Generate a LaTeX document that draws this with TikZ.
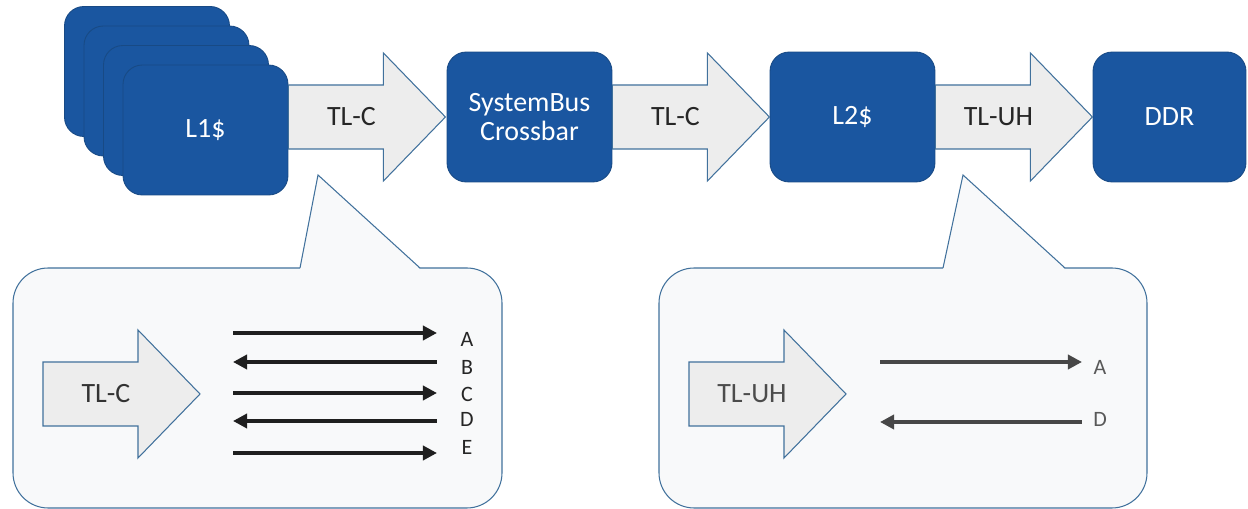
\documentclass[tikz,border=0pt]{standalone}
\usepackage{fontspec}
\setmainfont{Carlito}
\usetikzlibrary{calc,arrows.meta}

\definecolor{bluBox}{HTML}{1A56A0}
\definecolor{bordoBox}{HTML}{184A85}
\definecolor{bordoFreccia}{HTML}{41719C}
\definecolor{grigioFreccia}{HTML}{EDEDED}
\definecolor{fondoFumetto}{HTML}{F8F9FA}

\begin{document}
\begin{tikzpicture}[x=0.02cm, y=-0.02cm, >={Triangle[length=8pt,width=8pt]}]
% Stili dei blocchi, delle frecce larghe e dei fumetti
\tikzset{
  blocco/.style={draw=bordoBox, fill=bluBox, line width=0.5pt, rounded corners=11pt,
    minimum width=3.3cm, minimum height=2.6cm, text=white, align=center,
    font=\fontsize{15.9}{17}\selectfont},
  freccia/.style={draw=bordoFreccia, fill=grigioFreccia, line width=0.6pt},
  testofreccia/.style={font=\fontsize{15.9}{17}\selectfont, text=black!85},
  fumetto/.style={draw=bordoFreccia, fill=fondoFumetto, line width=0.6pt, rounded corners=20pt},
  segnale/.style={line width=2.2pt, draw=black!88},
  lettera/.style={font=\fontsize{12.5}{14}\selectfont, text=black!85},
}

% Freccia larga: #1 nome del testo, #2 punto di partenza, #3 etichetta, #4 stile extra
\def\frecciona#1#2#3#4{%
  \draw[freccia] (#2) ++(0,-32) -- ++(95,0) -- ++(0,-32) -- ++(62,64)
    -- ++(-62,64) -- ++(0,-32) -- ++(-95,0) -- cycle;
  \node[testofreccia, #4] (#1) at ($(#2)+(63,0)$) {#3};}

\useasboundingbox (0,0) rectangle (1248,509);
\clip (0,0) rectangle (1248,509);

% --- CATENA DI BLOCCHI ---
\foreach \i in {3,2,1} {
  \node[blocco] (l1\i) at ({205.5-19.5*\i}, {130-19.5*\i}) {};
}
\node[blocco] (l1) at (205.5,130) {L1\$};
\node[blocco] (bus) at (529.5,117) {SystemBus\\Crossbar};
\node[blocco] (l2) at (852.5,117) {L2\$};
\node[blocco, minimum width=3.06cm] (ddr) at (1169.5,117) {DDR};

\coordinate (p1) at ($(l1.east)+(0,-13)$);
\frecciona{tlc1}{p1}{TL-C}{}
\frecciona{tlc2}{bus.east}{TL-C}{}
\frecciona{tluh}{l2.east}{TL-UH}{}

% --- FUMETTO SINISTRO (TL-C) ---
\draw[fumetto] (13,268) rectangle (502,508);
\fill[fondoFumetto] (300,269) -- (318,175) -- (420,269) -- cycle;
\draw[bordoFreccia, line width=0.6pt] (300,268) -- (318,175) -- (420,268);

\coordinate (in1) at (43,394);
\frecciona{tlcin}{in1}{TL-C}{text=black!80}

\foreach \y/\dir in {333/->, 362/<-, 393/->, 421/<-, 453/->} {
  \draw[segnale, \dir] (233,\y) -- (437,\y);
}
\foreach \y/\t in {339/A, 367/B, 394/C, 419/D, 447/E} {
  \node[lettera] (sx\t) at (467,\y) {\t};
}

% --- FUMETTO DESTRO (TL-UH) ---
\draw[fumetto] (659,268) rectangle (1147,508);
\fill[fondoFumetto] (943,269) -- (963,175) -- (1065,269) -- cycle;
\draw[bordoFreccia, line width=0.6pt] (943,268) -- (963,175) -- (1065,268);

\coordinate (in2) at (689,394);
\frecciona{tluhin}{in2}{TL-UH}{text=black!70}

\draw[segnale, draw=black!72, ->] (880,362) -- (1082,362);
\draw[segnale, draw=black!72, <-] (880,422) -- (1082,422);
\node[lettera, text=black!65] (dxA) at (1100,367) {A};
\node[lettera, text=black!65] (dxD) at (1100,419) {D};

\end{tikzpicture}
\end{document}
